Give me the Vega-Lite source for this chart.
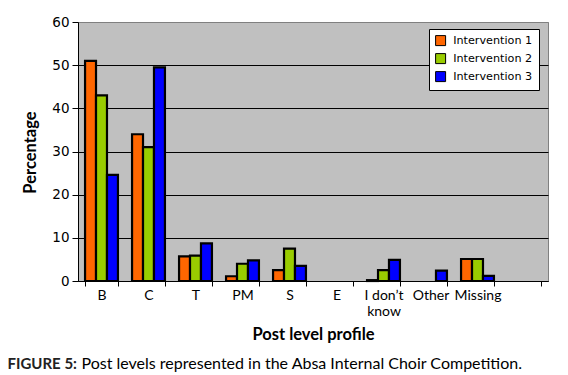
{
  "$schema": "https://vega.github.io/schema/vega-lite/v6.json",
  "autosize": {"type": "none"},
  "width": 470,
  "height": 259,
  "padding": {"left": 78, "top": 22, "right": 20, "bottom": 94},
  "background": "white",
  "config": {
    "view": {"fill": "#C0C0C0", "stroke": "#808080", "strokeWidth": 1},
    "font": "Lato"
  },
  "data": {
    "values": [
      {"cat": "B", "group": "Intervention 1", "pct": 51},
      {"cat": "B", "group": "Intervention 2", "pct": 43},
      {"cat": "B", "group": "Intervention 3", "pct": 24.6},
      {"cat": "C", "group": "Intervention 1", "pct": 34},
      {"cat": "C", "group": "Intervention 2", "pct": 31},
      {"cat": "C", "group": "Intervention 3", "pct": 49.5},
      {"cat": "T", "group": "Intervention 1", "pct": 5.7},
      {"cat": "T", "group": "Intervention 2", "pct": 5.9},
      {"cat": "T", "group": "Intervention 3", "pct": 8.7},
      {"cat": "PM", "group": "Intervention 1", "pct": 1.1},
      {"cat": "PM", "group": "Intervention 2", "pct": 4.0},
      {"cat": "PM", "group": "Intervention 3", "pct": 4.8},
      {"cat": "S", "group": "Intervention 1", "pct": 2.5},
      {"cat": "S", "group": "Intervention 2", "pct": 7.5},
      {"cat": "S", "group": "Intervention 3", "pct": 3.5},
      {"cat": "I don’t know", "group": "Intervention 1", "pct": 0.2},
      {"cat": "I don’t know", "group": "Intervention 2", "pct": 2.5},
      {"cat": "I don’t know", "group": "Intervention 3", "pct": 4.9},
      {"cat": "Other", "group": "Intervention 3", "pct": 2.4},
      {"cat": "Missing", "group": "Intervention 1", "pct": 5.1},
      {"cat": "Missing", "group": "Intervention 2", "pct": 5.1},
      {"cat": "Missing", "group": "Intervention 3", "pct": 1.2}
    ]
  },
  "resolve": {"axis": {"x": "independent"}},
  "layer": [
    {
      "mark": {"type": "bar", "stroke": "black", "strokeWidth": 2.2},
      "encoding": {
        "x": {
          "field": "cat",
          "type": "nominal",
          "sort": null,
          "scale": {
            "domain": ["B", "C", "T", "PM", "S", "E", "I don’t know", "Other", "Missing", " "],
            "paddingInner": 0.3,
            "paddingOuter": 0.15
          },
          "axis": {
            "orient": "bottom",
            "title": "Post level profile",
            "titleFont": "Lato",
            "titleFontSize": 16.5,
            "titleFontWeight": "bold",
            "titleColor": "black",
            "titleBaseline": "alphabetic",
            "titleY": 58,
            "labelAngle": 0,
            "labelFont": "Lato",
            "labelFontSize": 14,
            "labelColor": "black",
            "labelPadding": 2,
            "labelLineHeight": 16,
            "labelExpr": "datum.label == 'I don’t know' ? ['I don’t', 'know'] : datum.label",
            "tickBand": "extent",
            "tickSize": 5,
            "tickColor": "black",
            "domainColor": "black",
            "grid": false
          }
        },
        "xOffset": {
          "field": "group",
          "type": "nominal",
          "scale": {"domain": ["Intervention 1", "Intervention 2", "Intervention 3"], "paddingInner": 0, "paddingOuter": 0}
        },
        "y": {
          "field": "pct",
          "type": "quantitative",
          "scale": {"domain": [0, 60], "nice": false},
          "axis": {
            "title": "Percentage",
            "titleFont": "Lato",
            "titleFontSize": 16.5,
            "titleFontWeight": "bold",
            "titleColor": "black",
            "titleAngle": 270,
            "titleAlign": "center",
            "titleBaseline": "middle",
            "titleX": -48,
            "titleY": 130,
            "values": [0, 10, 20, 30, 40, 50, 60],
            "labelFont": "DejaVu Sans",
            "labelFontSize": 13.5,
            "labelColor": "black",
            "labelPadding": 3,
            "tickSize": 6,
            "tickColor": "black",
            "domainColor": "black",
            "grid": true,
            "gridColor": {"condition": {"test": "datum.value == 60", "value": "#808080"}, "value": "black"},
            "gridOpacity": 1,
            "gridWidth": 1
          }
        },
        "color": {
          "field": "group",
          "type": "nominal",
          "scale": {
            "domain": ["Intervention 1", "Intervention 2", "Intervention 3"],
            "range": ["#FF6600", "#99CC00", "#0000FF"]
          },
          "legend": {
            "title": null,
            "orient": "none",
            "legendX": 351,
            "legendY": 7,
            "fillColor": "white",
            "strokeColor": "black",
            "padding": 6,
            "symbolType": "square",
            "symbolSize": 100,
            "symbolStrokeColor": "black",
            "symbolStrokeWidth": 1,
            "symbolOpacity": 1,
            "labelFont": "DejaVu Sans",
            "labelFontSize": 11.2,
            "labelColor": "black",
            "labelOffset": 7,
            "rowPadding": 3
          }
        }
      }
    },
    {
      "mark": {"type": "tick", "opacity": 0},
      "encoding": {
        "x": {
          "field": "cat",
          "type": "nominal",
          "axis": {
            "orient": "bottom",
            "title": "Post levels represented in the Absa Internal Choir Competition.",
            "titleFont": "Lato",
            "titleFontSize": 16,
            "titleFontWeight": "normal",
            "titleColor": "black",
            "titleAlign": "left",
            "titleAnchor": "start",
            "titleBaseline": "alphabetic",
            "titleX": 3,
            "titleY": 87,
            "labels": false,
            "ticks": false,
            "domain": false,
            "grid": false
          }
        }
      }
    },
    {
      "mark": {"type": "tick", "opacity": 0},
      "encoding": {
        "x": {
          "field": "cat",
          "type": "nominal",
          "axis": {
            "orient": "bottom",
            "title": "FIGURE 5:",
            "titleFont": "Lato",
            "titleFontSize": 15,
            "titleFontWeight": "bold",
            "titleColor": "#222222",
            "titleAlign": "left",
            "titleAnchor": "start",
            "titleBaseline": "alphabetic",
            "titleX": -71,
            "titleY": 87,
            "labels": false,
            "ticks": false,
            "domain": false,
            "grid": false
          }
        }
      }
    }
  ]
}
